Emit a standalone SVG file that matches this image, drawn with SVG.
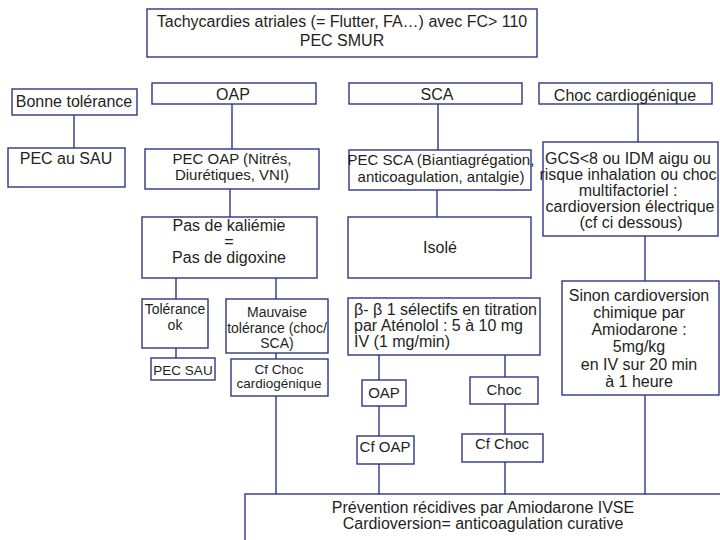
<svg xmlns="http://www.w3.org/2000/svg" width="720" height="540" viewBox="0 0 720 540">
  <style>
    .box { fill: #ffffff; stroke: #2e3586; stroke-width: 1.4; }
    .link { fill: none; stroke: #2e3586; stroke-width: 1.4; }
    text { font-family: "Liberation Sans", Arial, sans-serif; fill: #231f20; text-anchor: middle; font-size: 16px; }
    .s15 { font-size: 15px; }
    .s14 { font-size: 14px; }
    .s13 { font-size: 13.5px; }
    .left { text-anchor: start; }
  </style>
  <rect x="0" y="0" width="720" height="540" fill="#ffffff"/>

  <!-- connectors -->
  <g id="connectors">
    <line class="link" x1="74" y1="115" x2="74" y2="148"/>
    <line class="link" x1="232" y1="104" x2="232" y2="149"/>
    <line class="link" x1="230" y1="189" x2="230" y2="217"/>
    <line class="link" x1="176" y1="278" x2="176" y2="299"/>
    <line class="link" x1="276" y1="278" x2="276" y2="299"/>
    <line class="link" x1="176" y1="348" x2="176" y2="358"/>
    <line class="link" x1="276" y1="353" x2="276" y2="359"/>
    <line class="link" x1="276" y1="396" x2="276" y2="494"/>
    <line class="link" x1="438" y1="104" x2="438" y2="150"/>
    <line class="link" x1="437" y1="190" x2="437" y2="217"/>
    <line class="link" x1="379" y1="355" x2="379" y2="380"/>
    <line class="link" x1="379" y1="406" x2="379" y2="436"/>
    <line class="link" x1="379" y1="464" x2="379" y2="494"/>
    <line class="link" x1="505" y1="355" x2="505" y2="377"/>
    <line class="link" x1="505" y1="404" x2="505" y2="434"/>
    <line class="link" x1="505" y1="462" x2="505" y2="494"/>
    <line class="link" x1="638" y1="104" x2="638" y2="142"/>
    <line class="link" x1="645" y1="236" x2="645" y2="281"/>
    <line class="link" x1="645" y1="395" x2="645" y2="494"/>
  </g>

  <g id="root">
    <rect class="box" x="147" y="9" width="390" height="48"/>
    <text x="342" y="27">Tachycardies atriales (= Flutter, FA…) avec FC&gt; 110</text>
    <text x="342" y="46">PEC SMUR</text>
  </g>

  <g id="bonne-tolerance">
    <rect class="box" x="12" y="89" width="125" height="26"/>
    <text x="74" y="107">Bonne tolérance</text>
  </g>
  <g id="pec-sau-1">
    <rect class="box" x="8" y="148" width="117" height="39"/>
    <text x="66" y="164">PEC au SAU</text>
  </g>

  <g id="oap">
    <rect class="box" x="152" y="83" width="164" height="21"/>
    <text x="233" y="100">OAP</text>
  </g>
  <g id="pec-oap">
    <rect class="box" x="145" y="149" width="174" height="40"/>
    <text class="s15" x="232" y="164">PEC OAP (Nitrés,</text>
    <text class="s15" x="232" y="180">Diurétiques, VNI)</text>
  </g>
  <g id="kaliemie">
    <rect class="box" x="142" y="217" width="175" height="61"/>
    <text x="229" y="231">Pas de kaliémie</text>
    <text x="229" y="247">=</text>
    <text x="229" y="263">Pas de digoxine</text>
  </g>
  <g id="tolerance-ok">
    <rect class="box" x="142" y="299" width="66" height="49"/>
    <text class="s14" x="175" y="314">Tolérance</text>
    <text class="s14" x="175" y="330">ok</text>
  </g>
  <g id="pec-sau-2">
    <rect class="box" x="151" y="358" width="64" height="22"/>
    <text class="s13" x="183" y="375">PEC SAU</text>
  </g>
  <g id="mauvaise-tolerance">
    <rect class="box" x="226" y="299" width="102" height="54"/>
    <text class="s14" x="277" y="317">Mauvaise</text>
    <text class="s14" x="277" y="333">tolérance (choc/</text>
    <text class="s14" x="277" y="348">SCA)</text>
  </g>
  <g id="cf-choc-cardiogenique">
    <rect class="box" x="231" y="359" width="97" height="37"/>
    <text class="s13" x="279" y="374">Cf Choc</text>
    <text class="s13" x="279" y="388">cardiogénique</text>
  </g>

  <g id="sca">
    <rect class="box" x="349" y="83" width="173" height="21"/>
    <text x="437" y="100">SCA</text>
  </g>
  <g id="pec-sca">
    <rect class="box" x="349" y="150" width="182" height="40"/>
    <text class="s15" x="441" y="165">PEC SCA (Biantiagrégation,</text>
    <text class="s15" x="441" y="182">anticoagulation, antalgie)</text>
  </g>
  <g id="isole">
    <rect class="box" x="348" y="217" width="183" height="61"/>
    <text x="440" y="253">Isolé</text>
  </g>
  <g id="beta-bloquants">
    <rect class="box" x="348" y="298" width="192" height="57"/>
    <text class="left" x="354" y="315">β- β 1 sélectifs en titration</text>
    <text class="left" x="354" y="331">par Aténolol : 5 à 10 mg</text>
    <text class="left" x="354" y="347">IV (1 mg/min)</text>
  </g>
  <g id="oap-2">
    <rect class="box" x="362" y="380" width="44" height="26"/>
    <text class="s15" x="384" y="398">OAP</text>
  </g>
  <g id="cf-oap">
    <rect class="box" x="357" y="436" width="57" height="28"/>
    <text class="s15" x="385" y="452">Cf OAP</text>
  </g>
  <g id="choc">
    <rect class="box" x="470" y="377" width="68" height="27"/>
    <text class="s15" x="504" y="395">Choc</text>
  </g>
  <g id="cf-choc">
    <rect class="box" x="462" y="434" width="81" height="28"/>
    <text class="s15" x="502" y="449">Cf Choc</text>
  </g>

  <g id="choc-cardiogenique">
    <rect class="box" x="539" y="83" width="173" height="21"/>
    <text x="625" y="101">Choc cardiogénique</text>
  </g>
  <g id="cardioversion-electrique">
    <rect class="box" x="543" y="142" width="175" height="94"/>
    <text x="628" y="164">GCS&lt;8 ou IDM aigu ou</text>
    <text x="628" y="180">risque inhalation ou choc</text>
    <text x="628" y="196">multifactoriel :</text>
    <text x="630" y="212">cardioversion électrique</text>
    <text x="631" y="228">(cf ci dessous)</text>
  </g>
  <g id="cardioversion-chimique">
    <rect class="box" x="562" y="281" width="157" height="114"/>
    <text x="639" y="301">Sinon cardioversion</text>
    <text x="639" y="318">chimique par</text>
    <text x="639" y="335">Amiodarone :</text>
    <text x="639" y="352">5mg/kg</text>
    <text x="639" y="370">en IV sur 20 min</text>
    <text x="639" y="387">à 1 heure</text>
  </g>

  <g id="prevention">
    <rect class="box" x="245" y="494" width="490" height="60"/>
    <text x="483" y="513">Prévention récidives par Amiodarone IVSE</text>
    <text x="483" y="529">Cardioversion= anticoagulation curative</text>
  </g>
</svg>
